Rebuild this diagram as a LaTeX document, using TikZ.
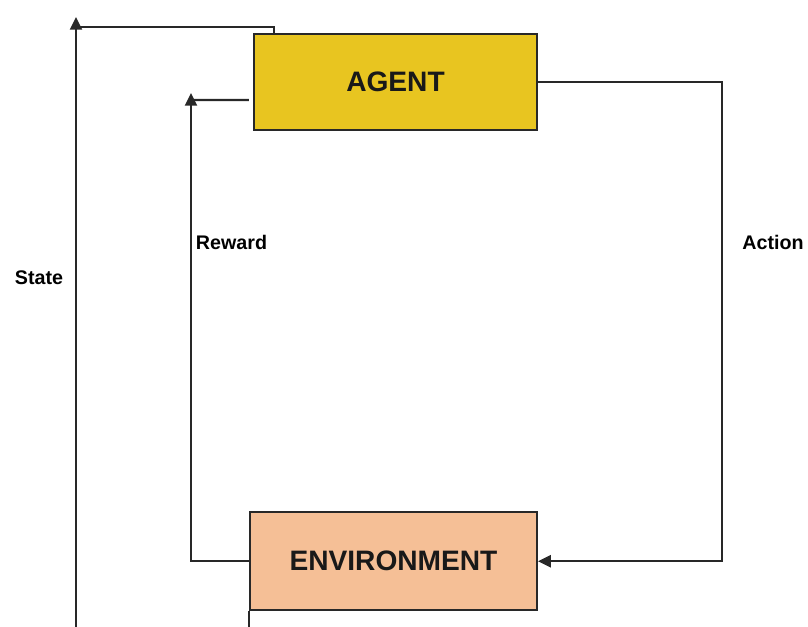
\documentclass[tikz,border=0pt]{standalone}
\usepackage{fontspec}
\setmainfont{Liberation Sans}
\usetikzlibrary{arrows.meta,positioning}
\definecolor{agentyellow}{RGB}{232,197,32}
\definecolor{envpeach}{RGB}{245,191,150}
\definecolor{lineDark}{RGB}{40,40,40}
\tikzset{
  basebox/.style={rectangle,draw=lineDark,line width=1.5pt,align=center,font=\fontsize{20}{24}\selectfont\bfseries,text=black!90},
  agentnode/.style={basebox,fill=agentyellow,minimum width=7.075cm,minimum height=2.4cm},
  envnode/.style={basebox,fill=envpeach,minimum width=7.175cm,minimum height=2.45cm},
  arr/.style={-{Triangle[length=9pt,width=8.5pt]},line width=1.5pt,color=lineDark},
  wire/.style={line width=1.5pt,color=lineDark},
  lbl/.style={font=\fontsize{14}{17}\selectfont\bfseries,text=black}
}

\begin{document}
\begin{tikzpicture}[x=0.025cm,y=-0.025cm]
  \useasboundingbox (0,0) rectangle (808,626);
  \clip (0,0) rectangle (808,626);

  \node[agentnode] (agent) at (395.5,82) {AGENT};
  \node[envnode,below=9.5cm of agent,xshift=-0.05cm] (env) {ENVIRONMENT};

  \coordinate (stateTop) at (76,17);
  \coordinate (stateJoin) at (76,27);
  \coordinate (rewardTop) at (191,93);
  \coordinate (rewardJoin) at (191,100);

  % state loop
  \draw[arr] (env.south west) -- ++(0,40) -| (stateTop);
  \draw[wire] ([xshift=0.525cm]agent.north west) |- (stateJoin);

  % reward loop
  \draw[arr] (env.west) -| (rewardTop);
  \draw[wire] ([xshift=-0.1cm,yshift=-0.45cm]agent.west) -- (rewardJoin);

  % action
  \draw[arr] (agent.east) -- ++(184,0) |- (env.east);

  \node[lbl] (stateLbl) at (39,278) {State};
  \node[lbl] (rewardLbl) at (231.5,242) {Reward};
  \node[lbl] (actionLbl) at (773,242) {Action};
\end{tikzpicture}
\end{document}
